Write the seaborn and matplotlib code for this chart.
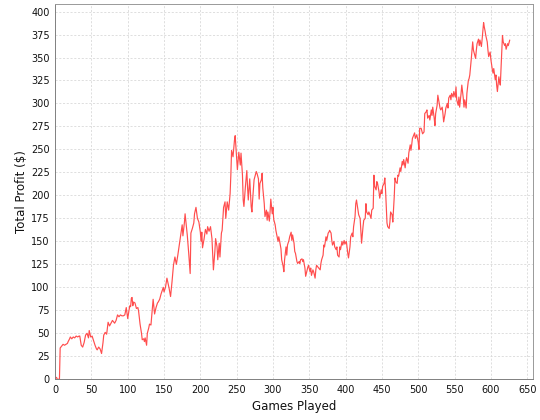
import pandas as pd
import matplotlib
matplotlib.use("Agg")
import matplotlib.pyplot as plt
import seaborn as sns

# games played and running total profit
games = [0, 1, 2, 3, 5, 6, 7, 9, 11, 13, 15, 17, 18, 20, 21, 23, 25, 27, 29, 31,
         33, 34, 36, 38, 40, 42, 44, 46, 47, 49, 51, 53, 55, 57, 58, 60, 62, 64, 66, 67,
         69, 71, 73, 75, 77, 79, 81, 82, 84, 86, 88, 90, 92, 94, 96, 98, 100, 102, 103, 104,
         105, 106, 107, 108, 110, 112, 114, 115, 117, 119, 120, 122, 123, 124, 126, 127, 129, 130, 132, 133,
         135, 137, 139, 141, 142, 144, 146, 149, 150, 152, 154, 157, 159, 161, 163, 165, 167, 169, 171, 173,
         175, 176, 178, 179, 181, 182, 184, 186, 187, 189, 191, 192, 194, 196, 198, 200, 201, 202, 203, 205,
         207, 209, 210, 212, 214, 216, 217, 218, 220, 221, 223, 224, 226, 227, 229, 230, 232, 234, 235, 237,
         239, 241, 242, 243, 245, 247, 248, 249, 251, 252, 253, 255, 256, 258, 259, 260, 262, 264, 265, 266,
         268, 270, 271, 272, 274, 275, 277, 278, 280, 281, 282, 284, 285, 286, 288, 289, 291, 292, 293, 295,
         296, 297, 299, 300, 301, 303, 304, 305, 307, 308, 309, 311, 312, 314, 315, 316, 318, 319, 320, 322,
         323, 325, 326, 327, 329, 330, 331, 333, 334, 336, 337, 338, 340, 341, 342, 344, 345, 347, 348, 349,
         351, 352, 353, 355, 356, 358, 359, 360, 362, 363, 365, 366, 367, 369, 370, 371, 373, 374, 376, 377,
         378, 380, 381, 382, 384, 385, 387, 388, 389, 391, 392, 393, 395, 396, 398, 399, 401, 403, 404, 406,
         407, 409, 410, 411, 413, 414, 415, 417, 418, 420, 421, 422, 424, 425, 427, 428, 429, 431, 432, 433,
         435, 436, 438, 439, 440, 442, 443, 444, 446, 447, 449, 450, 451, 453, 454, 455, 457, 458, 460, 461,
         462, 464, 465, 467, 468, 469, 471, 472, 473, 475, 476, 478, 479, 480, 482, 483, 484, 486, 487, 489,
         490, 491, 492, 494, 495, 496, 498, 500, 501, 502, 504, 506, 508, 509, 511, 512, 513, 515, 516, 518,
         519, 520, 522, 523, 524, 526, 527, 529, 530, 531, 533, 534, 535, 537, 538, 540, 541, 542, 544, 545,
         546, 548, 549, 551, 552, 553, 555, 556, 557, 559, 560, 562, 563, 564, 566, 567, 569, 570, 571, 573,
         574, 575, 576, 577, 579, 580, 581, 583, 584, 585, 587, 588, 590, 591, 592, 593, 595, 596, 597, 599,
         600, 602, 603, 604, 606, 607, 608, 609, 611, 612, 613, 615, 616, 617, 619, 620, 621, 623, 624, 626]

profit = [0, 2, 2, 0, 0, 0, 34, 36, 38, 37, 38, 39, 41, 44, 46, 44, 46, 45, 47, 46,
          47, 47, 37, 35, 40, 48, 50, 45, 53, 46, 47, 42, 37, 33, 32, 35, 33, 28, 40, 48,
          51, 49, 62, 58, 61, 64, 62, 61, 64, 70, 68, 70, 69, 69, 70, 78, 66, 76, 80, 79,
          88, 89, 80, 84, 83, 77, 78, 74, 60, 50, 43, 44, 41, 45, 37, 50, 56, 60, 59, 68,
          87, 71, 78, 83, 84, 87, 93, 100, 95, 100, 110, 99, 90, 106, 124, 133, 125, 135, 146, 157,
          168, 156, 170, 180, 164, 157, 137, 115, 159, 164, 170, 180, 187, 175, 171, 160, 150, 160, 143, 152,
          163, 158, 166, 161, 166, 153, 137, 119, 139, 153, 144, 130, 148, 133, 159, 162, 187, 193, 175, 193,
          184, 202, 222, 249, 242, 260, 265, 253, 228, 237, 247, 233, 246, 222, 195, 188, 209, 227, 209, 195,
          218, 188, 182, 195, 217, 220, 226, 224, 218, 196, 213, 217, 224, 208, 191, 177, 184, 173, 182, 172,
          182, 196, 180, 187, 174, 168, 162, 158, 150, 155, 151, 142, 130, 123, 117, 130, 144, 135, 146, 151,
          155, 160, 151, 157, 148, 139, 137, 128, 126, 128, 126, 130, 131, 128, 130, 121, 112, 119, 122, 124,
          117, 121, 113, 119, 117, 110, 119, 124, 122, 121, 119, 126, 130, 135, 146, 144, 155, 151, 159, 160,
          162, 159, 151, 146, 150, 144, 141, 144, 135, 133, 144, 141, 150, 146, 151, 147, 150, 137, 132, 144,
          155, 159, 155, 166, 177, 191, 195, 184, 179, 175, 162, 148, 166, 173, 175, 191, 182, 179, 182, 180,
          175, 184, 186, 222, 210, 206, 215, 213, 204, 197, 206, 202, 210, 213, 219, 206, 170, 166, 164, 171,
          182, 179, 171, 199, 219, 215, 213, 222, 221, 230, 226, 237, 233, 239, 230, 237, 241, 235, 246, 255,
          249, 255, 262, 266, 268, 262, 266, 258, 250, 273, 273, 267, 269, 289, 291, 293, 284, 287, 282, 293,
          287, 296, 284, 276, 289, 298, 309, 300, 295, 293, 296, 289, 280, 289, 295, 300, 295, 306, 309, 304,
          311, 307, 313, 307, 318, 304, 298, 307, 296, 311, 320, 306, 296, 304, 295, 311, 325, 327, 331, 348,
          358, 367, 358, 355, 349, 358, 365, 370, 363, 369, 362, 370, 388, 383, 379, 374, 367, 358, 351, 356,
          348, 337, 333, 338, 326, 331, 320, 313, 329, 324, 320, 355, 374, 367, 363, 365, 359, 365, 363, 369]

x_ticks = list(range(0, 651, 50))
y_ticks = list(range(0, 401, 25))

df = pd.DataFrame({"Games Played": games, "Total Profit ($)": profit})

sns.set_style("white")
plt.rcParams["font.family"] = ["DejaVu Sans"]

fig = plt.figure(figsize=(5.4, 4.2), dpi=100)
ax = fig.add_axes([0.102, 0.097, 0.885, 0.893])

sns.lineplot(data=df, x="Games Played", y="Total Profit ($)", color="#ff4d4d",
             linewidth=0.85, ax=ax)

ax.set_xlim(0, 658)
ax.set_ylim(0, 408)
ax.set_xticks(x_ticks)
ax.set_yticks(y_ticks)
ax.tick_params(axis="both", labelsize=7, labelcolor="#111111", color="#888888",
               length=2, width=0.6, direction="out", pad=2)
ax.grid(True, color="#d9d9d9", linestyle=(0, (2.5, 2)), linewidth=0.6)
ax.set_axisbelow(True)
for side in ["top", "right", "left", "bottom"]:
    ax.spines[side].set_color("#999999")
    ax.spines[side].set_linewidth(0.7)
ax.spines["left"].set_color("#808080")
ax.spines["bottom"].set_color("#808080")

ax.set_xlabel("Games Played", fontsize=8.5, color="#111111", labelpad=4)
ax.set_ylabel("Total Profit ($)", fontsize=8.5, color="#111111", labelpad=2)

fig.savefig("out.png", dpi=100, facecolor="white")
